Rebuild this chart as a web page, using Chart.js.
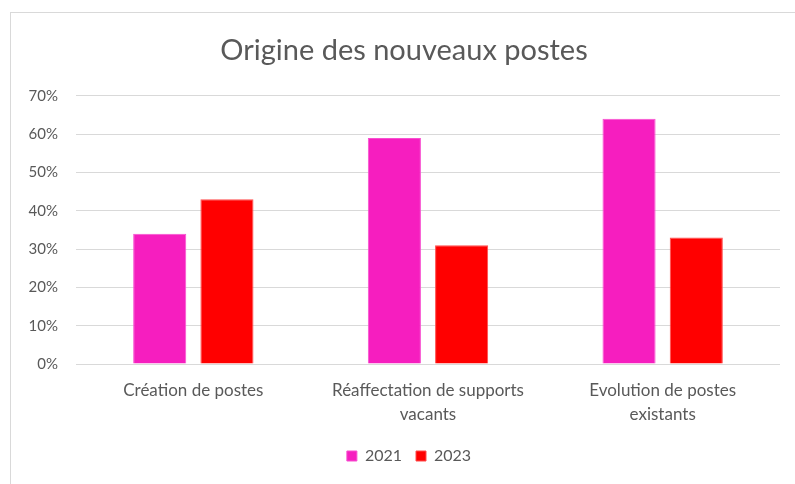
<!DOCTYPE html>
<html>
<head>
<meta charset="utf-8">
<script src="https://cdn.jsdelivr.net/npm/chart.js@4/dist/chart.umd.min.js"></script>
<style>
  html, body { margin: 0; padding: 0; background: #ffffff; }
  #wrap { position: relative; width: 795px; height: 484px; overflow: hidden; }
  #frame { position: absolute; left: 10px; top: 12px; width: 800px; height: 500px; border: 1px solid #d9d9d9; box-sizing: border-box; }
  #c { position: absolute; left: 0; top: 0; }
</style>
</head>
<body>
<div id="wrap">
  <div id="frame"></div>
  <canvas id="c" width="795" height="484"></canvas>
</div>
<script>
const title = "Origine des nouveaux postes";
const categories = [
  ["Création de postes"],
  ["Réaffectation de supports", "vacants"],
  ["Evolution de postes", "existants"]
];
const seriesNames = ["2021", "2023"];
const values2021 = [0.34, 0.59, 0.64];
const values2023 = [0.43, 0.31, 0.33];
const yTicks = [0, 0.1, 0.2, 0.3, 0.4, 0.5, 0.6, 0.7];

const textColor = "#595959";
const fontFamily = "Lato, 'Open Sans', sans-serif";

// shift title and legend horizontally to sit centred on the framed chart
const shiftBlocks = {
  id: "shiftBlocks",
  afterLayout(chart) {
    if (chart.titleBlock) { chart.titleBlock.left += 14; chart.titleBlock.right += 14; }
    if (chart.legend) { chart.legend.left += 19; chart.legend.right += 19; }
  }
};

new Chart(document.getElementById("c"), {
  type: "bar",
  data: {
    labels: categories,
    datasets: [
      { label: seriesNames[0], data: values2021, backgroundColor: "#f61ebf", borderColor: "#f84fd0", borderWidth: 1 },
      { label: seriesNames[1], data: values2023, backgroundColor: "#ff0000", borderColor: "#ff4d4d", borderWidth: 1 }
    ]
  },
  plugins: [shiftBlocks],
  options: {
    responsive: false,
    animation: false,
    events: [],
    layout: { padding: { left: 0, right: 15, top: 33, bottom: 10 } },
    datasets: { bar: { categoryPercentage: 0.573, barPercentage: 0.79 } },
    plugins: {
      title: {
        display: true,
        text: title,
        color: textColor,
        font: { family: fontFamily, size: 29, weight: "normal", lineHeight: 1.2 },
        padding: { top: 0, bottom: 28 }
      },
      legend: {
        position: "bottom",
        title: { display: true, text: "", font: { size: 1, lineHeight: 1 }, padding: { top: 3, bottom: 3 } },
        labels: {
          color: textColor,
          font: { family: fontFamily, size: 16 },
          boxWidth: 10,
          boxHeight: 10,
          padding: 14
        }
      },
      tooltip: { enabled: false }
    },
    scales: {
      x: {
        grid: { display: false, drawTicks: false, tickLength: 0 },
        border: { display: false },
        afterFit: (axis) => { axis.height = 63; },
        ticks: {
          color: textColor,
          font: { family: fontFamily, size: 17, lineHeight: 1.41 },
          padding: 15,
          maxRotation: 0,
          autoSkip: false
        }
      },
      y: {
        min: 0,
        max: 0.7,
        afterBuildTicks: (axis) => { axis.ticks = yTicks.map(v => ({ value: v })); },
        afterFit: (axis) => { axis.width = 76; },
        grid: { color: "#d9d9d9", lineWidth: 1, drawTicks: false },
        border: { display: false },
        ticks: {
          color: textColor,
          font: { family: fontFamily, size: 15 },
          padding: 18,
          callback: (v) => Math.round(v * 100) + "%"
        }
      }
    }
  }
});
</script>
</body>
</html>
